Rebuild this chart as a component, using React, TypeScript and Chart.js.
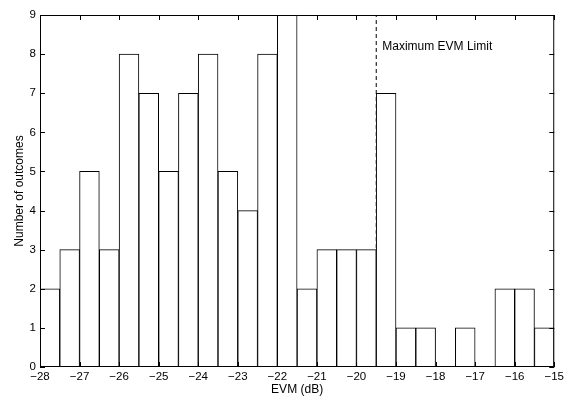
import React, { useEffect, useRef } from "react";
import { Chart, registerables } from "chart.js";

Chart.register(...registerables);

const binCenters = [
  -27.75, -27.25, -26.75, -26.25, -25.75, -25.25, -24.75, -24.25, -23.75, -23.25,
  -22.75, -22.25, -21.75, -21.25, -20.75, -20.25, -19.75, -19.25, -18.75, -18.25,
  -17.75, -17.25, -16.75, -16.25, -15.75, -15.25,
];
const counts = [2, 3, 5, 3, 8, 7, 5, 7, 8, 5, 4, 8, 9, 2, 3, 3, 3, 7, 1, 1, 0, 1, 0, 2, 2, 1];
const limitX = -19.5;
const limitLabel = "Maximum EVM Limit";
const xTitle = "EVM (dB)";
const yTitle = "Number of outcomes";
const xMin = -28;
const xMax = -15;
const yMin = 0;
const yMax = 9;

const FONT = "'Liberation Sans', Arial, Helvetica, sans-serif";

const boxPlugin = {
  id: "boxPlugin",
  afterDraw(chart: any) {
    const { ctx, chartArea } = chart;
    const xs = chart.scales.x;
    const ys = chart.scales.y;
    const { left, right, top, bottom } = chartArea;
    ctx.save();
    ctx.strokeStyle = "#000";
    ctx.lineWidth = 1;
    ctx.beginPath();
    ctx.rect(left + 0.5, top + 0.5, right - left - 1, bottom - top - 1);
    ctx.stroke();
    const tl = 5;
    ctx.beginPath();
    for (let v = xMin; v <= xMax; v++) {
      const px = Math.round(xs.getPixelForValue(v)) + 0.5;
      ctx.moveTo(px, bottom);
      ctx.lineTo(px, bottom - tl);
      ctx.moveTo(px, top);
      ctx.lineTo(px, top + tl);
    }
    for (let v = yMin; v <= yMax; v++) {
      const py = Math.round(ys.getPixelForValue(v)) + 0.5;
      ctx.moveTo(left, py);
      ctx.lineTo(left + tl, py);
      ctx.moveTo(right, py);
      ctx.lineTo(right - tl, py);
    }
    ctx.stroke();
    // annotation text
    ctx.fillStyle = "#000";
    ctx.font = `12px ${FONT}`;
    ctx.textAlign = "left";
    ctx.textBaseline = "middle";
    ctx.fillText(limitLabel, xs.getPixelForValue(limitX) + 6, ys.getPixelForValue(8.2));
    ctx.restore();
  },
};

export default function App() {
  const ref = useRef<HTMLCanvasElement | null>(null);
  useEffect(() => {
    if (!ref.current) return;
    Chart.defaults.font.family = FONT;
    Chart.defaults.font.size = 11;
    Chart.defaults.color = "#000";
    const chart = new Chart(ref.current, {
      type: "bar",
      data: {
        datasets: [
          {
            type: "bar",
            data: binCenters.map((x, i) => ({ x, y: counts[i] })),
            backgroundColor: "#fff",
            borderColor: "#000",
            borderWidth: 1,
            barPercentage: 1,
            categoryPercentage: 1,
          } as any,
          {
            type: "line",
            data: [
              { x: limitX, y: yMin },
              { x: limitX, y: yMax },
            ],
            borderColor: "#000",
            borderWidth: 1,
            borderDash: [4, 3],
            pointRadius: 0,
            fill: false,
          } as any,
        ],
      },
      options: {
        responsive: false,
        animation: false,
        layout: { padding: { top: 15, right: 11, left: 0, bottom: 0 } },
        plugins: {
          legend: { display: false },
          tooltip: { enabled: false },
        },
        scales: {
          x: {
            type: "linear",
            min: xMin,
            max: xMax,
            offset: false,
            grid: { display: false, drawTicks: false },
            border: { display: false },
            ticks: {
              stepSize: 1,
              padding: 3,
              maxRotation: 0,
              autoSkip: false,
              font: { size: 11.5 },
              callback: (v: any) => String(v).replace("-", "\u2212"),
            },
            title: {
              display: true,
              text: xTitle,
              font: { size: 12, lineHeight: 1 },
              padding: { top: 0, bottom: 0 },
            },
            afterFit: (s: any) => {
              s.height = 29;
            },
          },
          y: {
            min: yMin,
            max: yMax,
            grid: { display: false, drawTicks: false },
            border: { display: false },
            ticks: { stepSize: 1, padding: 4, font: { size: 11.5 } },
            title: {
              display: true,
              text: yTitle,
              font: { size: 12, lineHeight: 1 },
              padding: { top: 14, bottom: 0 },
            },
            afterFit: (s: any) => {
              s.width = 40;
            },
          },
        },
      } as any,
      plugins: [boxPlugin],
    });
    return () => chart.destroy();
  }, []);
  return (
    <div style={{ position: "fixed", left: 0, top: 0, width: 567, height: 396, background: "#fff" }}>
      <canvas ref={ref} width={567} height={396} />
    </div>
  );
}
